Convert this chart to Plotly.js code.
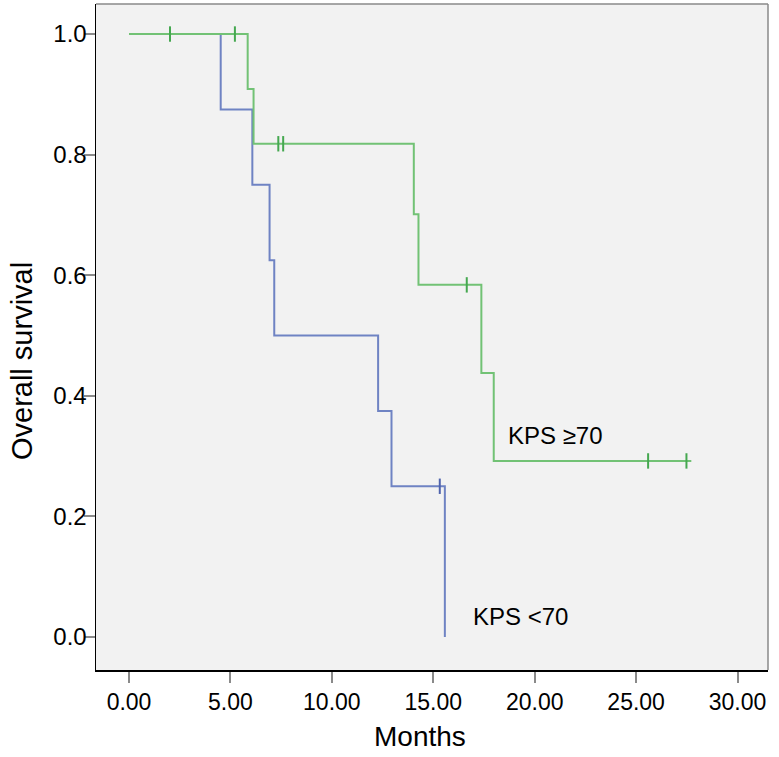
<!DOCTYPE html>
<html>
<head>
<meta charset="utf-8">
<script src="https://cdn.plot.ly/plotly-3.0.1.min.js"></script>
<style>html,body{margin:0;padding:0;background:#fff;}#chart{width:779px;height:757px;}</style>
</head>
<body>
<div id="chart"></div>
<script>
// KPS < 70 group (blue)
const lowTimes = [0, 4.52, 6.08, 6.93, 7.16, 12.28, 12.94, 15.57];
const lowSurv  = [1, 0.875, 0.75, 0.625, 0.5, 0.375, 0.25, 0.0];
const lowCensorTimes = [15.32];
const lowCensorSurv  = [0.25];

// KPS >= 70 group (green)
const highTimes = [0, 5.85, 6.14, 14.04, 14.27, 17.37, 17.98, 27.72];
const highSurv  = [1, 0.909, 0.818, 0.701, 0.584, 0.438, 0.292, 0.292];
const highCensorTimes = [2.02, 5.22, 7.36, 7.60, 16.65, 25.59, 27.48];
const highCensorSurv  = [1, 1, 0.818, 0.818, 0.584, 0.292, 0.292];

const xTickVals = [0, 5, 10, 15, 20, 25, 30];
const yTickVals = [0, 0.2, 0.4, 0.6, 0.8, 1.0];

const FONT = 'Liberation Sans, Arial, Helvetica, sans-serif';
const blue = '#6f83c3';
const blueDark = '#4f63ad';
const green = '#72c275';
const greenDark = '#45a850';

const traces = [
  {x: lowTimes, y: lowSurv, mode: 'lines', line: {shape: 'hv', color: blue, width: 2}, hoverinfo: 'skip'},
  {x: lowCensorTimes, y: lowCensorSurv, mode: 'markers',
   marker: {symbol: 'line-ns-open', size: 11, color: blueDark, line: {color: blueDark, width: 2}}, hoverinfo: 'skip'},
  {x: highTimes, y: highSurv, mode: 'lines', line: {shape: 'hv', color: green, width: 2}, hoverinfo: 'skip'},
  {x: highCensorTimes, y: highCensorSurv, mode: 'markers',
   marker: {symbol: 'line-ns-open', size: 11, color: greenDark, line: {color: greenDark, width: 2}}, hoverinfo: 'skip'}
];

const layout = {
  width: 779, height: 757,
  margin: {l: 96, r: 11, t: 4, b: 87},
  paper_bgcolor: '#ffffff',
  plot_bgcolor: '#f2f2f2',
  showlegend: false,
  font: {family: FONT, color: '#000'},
  xaxis: {
    range: [-1.627, 31.5],
    tickvals: xTickVals,
    tickformat: '.2f',
    ticks: 'outside', ticklen: 11, tickwidth: 2, tickcolor: '#8a8a8a',
    tickfont: {size: 23, family: FONT, color: '#000'},
    showgrid: false, zeroline: false,
    showline: true, linecolor: '#000', linewidth: 1.5,
    title: {text: ''},
    automargin: false
  },
  yaxis: {
    range: [-0.0547, 1.0498],
    tickvals: yTickVals,
    tickformat: '.1f',
    ticks: 'outside', ticklen: 11, tickwidth: 2, tickcolor: '#8a8a8a',
    tickfont: {size: 24, family: FONT, color: '#000'},
    ticklabelstandoff: -8,
    showgrid: false, zeroline: false,
    showline: true, linecolor: '#000', linewidth: 1.5,
    title: {text: ''},
    automargin: false
  },
  shapes: [
    {type: 'line', xref: 'paper', yref: 'paper', x0: 0, x1: 1, y0: 1, y1: 1, line: {color: '#8a8a8a', width: 1.5}},
    {type: 'line', xref: 'paper', yref: 'paper', x0: 1, x1: 1, y0: 0, y1: 1, line: {color: '#8a8a8a', width: 1.5}}
  ],
  annotations: [
    {x: 18.59, y: 0.335, xref: 'x', yref: 'y', text: 'KPS ≥70', showarrow: false, xanchor: 'left', yanchor: 'middle',
     font: {size: 24, family: FONT, color: '#000'}},
    {x: 16.86, y: 0.034, xref: 'x', yref: 'y', text: 'KPS <70', showarrow: false, xanchor: 'left', yanchor: 'middle',
     font: {size: 24, family: FONT, color: '#000'}},
    {x: 0.482, y: -0.1, xref: 'paper', yref: 'paper', text: 'Months', showarrow: false, xanchor: 'center', yanchor: 'middle',
     font: {size: 28, family: FONT, color: '#000'}},
    {x: -0.11, y: 0.464, xref: 'paper', yref: 'paper', text: 'Overall survival', showarrow: false, textangle: -90,
     xanchor: 'center', yanchor: 'middle', font: {size: 29, family: FONT, color: '#000'}}
  ]
};

Plotly.newPlot('chart', traces, layout, {staticPlot: true, displayModeBar: false});
</script>
</body>
</html>
